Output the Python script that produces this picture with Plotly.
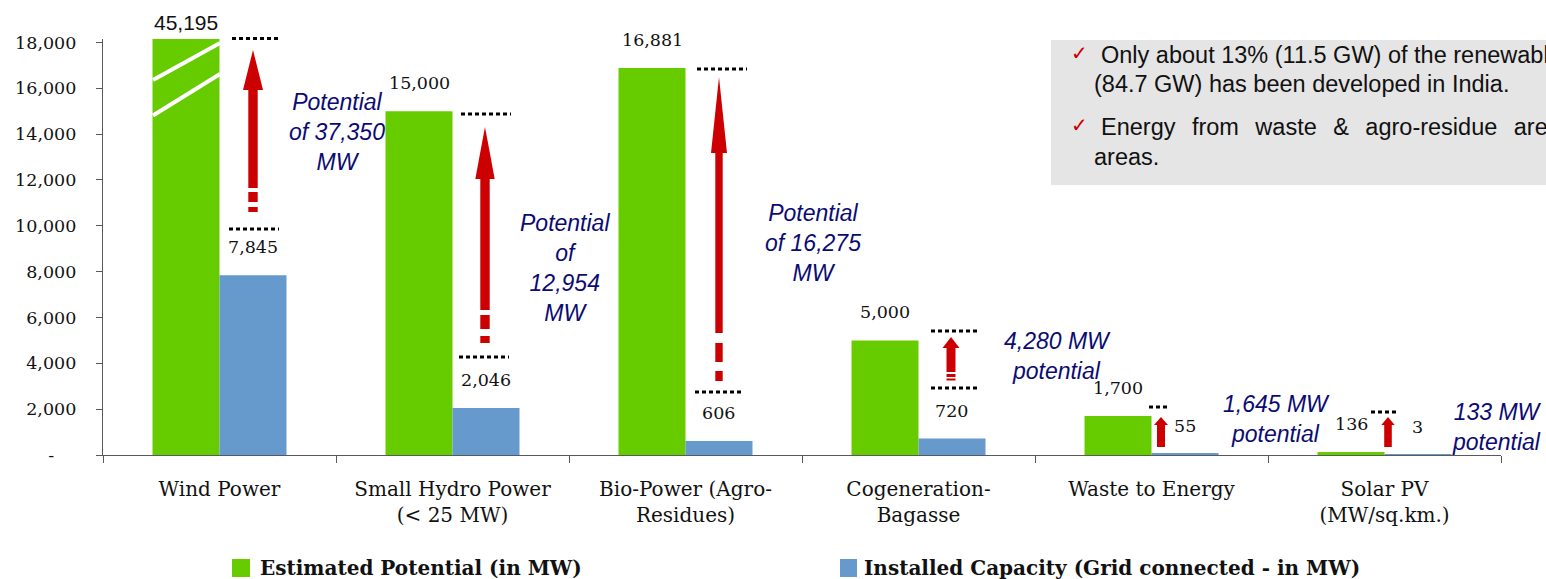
import plotly.graph_objects as go

# ---- data -------------------------------------------------------------
categories = [
    "Wind Power",
    "Small Hydro Power<br>(&lt; 25 MW)",
    "Bio-Power (Agro-<br>Residues)",
    "Cogeneration-<br>Bagasse",
    "Waste to Energy",
    "Solar PV<br>(MW/sq.km.)",
]
estimated_potential = [45195, 15000, 16881, 5000, 1700, 136]
installed_capacity = [7845, 2046, 606, 720, 55, 3]
gap_labels = [
    "Potential<br>of 37,350<br>MW",
    "Potential<br>of<br>12,954<br>MW",
    "Potential<br>of 16,275<br>MW",
    "4,280 MW<br>potential",
    "1,645 MW<br>potential",
    "133 MW<br>potential",
]
y_tick_values = [0, 2000, 4000, 6000, 8000, 10000, 12000, 14000, 16000, 18000]
y_tick_labels = ["-\u00a0\u00a0\u00a0\u00a0", "2,000", "4,000", "6,000", "8,000",
                 "10,000", "12,000", "14,000", "16,000", "18,000"]
series_names = ["Estimated Potential (in MW)",
                "Installed Capacity (Grid connected - in MW)"]
bullets = [
    ["Only about 13% (11.5 GW) of the renewable",
     "(84.7 GW) has been developed in India."],
    ["Energy\u2002\u2009from\u2002\u2009waste\u2002\u2009&amp;\u2002\u2009agro-residue\u2002\u2009are",
     "areas."],
]

# ---- layout / style ---------------------------------------------------
W, H = 1546, 579
ML, MR, MT, MB = 103, 45, 39, 124
PW, PH = W - ML - MR, H - MT - MB
Y_MAX = 18150
BARGAP = 0.425
HALF = (1 - BARGAP) / 4          # offset of each bar centre from the category centre

GREEN, BLUE, RED, NAVY = "#66CC00", "#6699CC", "#CC0000", "#0b0b73"
AXIS = "#595959"
SERIF, SANS = "DejaVu Serif", "Liberation Sans"


def px_x(p):
    return (p - ML) / PW


def px_y(p):
    return (H - MB - p) / PH


idx = list(range(len(categories)))

fig = go.Figure()
fig.add_trace(go.Bar(x=idx, y=estimated_potential, name=series_names[0],
                     marker=dict(color=GREEN, line=dict(width=0)), showlegend=False))
fig.add_trace(go.Bar(x=idx, y=installed_capacity, name=series_names[1],
                     marker=dict(color=BLUE, line=dict(width=0)), showlegend=False))

annotations = []
shapes = []

# value labels above the bars
for series, off in ((estimated_potential, -HALF), (installed_capacity, HALF)):
    for i, v in enumerate(series):
        clipped = v > Y_MAX
        annotations.append(dict(
            x=i + off, y=min(v, Y_MAX), xref="x", yref="y",
            text=f"{v:,}", showarrow=False, yanchor="middle",
            yshift=17 if clipped else 28,
            font=dict(family=SANS if clipped else SERIF,
                      size=21 if clipped else 17.5, color="#111111"),
        ))

# axis-break strokes across the truncated wind bar
for (x0, y0, x1, y1) in [(153, 80, 220, 43), (153, 115.5, 220, 74)]:
    shapes.append(dict(type="line", xref="paper", yref="paper",
                       x0=px_x(x0), y0=px_y(y0), x1=px_x(x1), y1=px_y(y1),
                       line=dict(color="white", width=4)))

# dotted level markers
dots = [(38.5, 232, 281), (229, 229, 279), (114, 461, 511), (357, 459, 509),
        (69, 697, 747), (392, 695, 744), (331, 931, 979), (388, 931, 979),
        (407, 1149, 1168), (412, 1371, 1399)]
for (yy, x0, x1) in dots:
    shapes.append(dict(type="line", xref="paper", yref="paper",
                       x0=px_x(x0), x1=px_x(x1), y0=px_y(yy), y1=px_y(yy),
                       line=dict(color="black", width=3, dash="4px,3px")))

# red gap arrows (head, shaft and the broken tail)
arrows = [
    dict(x=253, tip=50, base=90, end=188, head=10, shaft=4.7, tail=[(192, 202), (207, 212)]),
    dict(x=485, tip=127, base=179, end=310, head=9.7, shaft=4.7, tail=[(315, 329), (336, 343)]),
    dict(x=719, tip=77, base=153, end=333, head=8, shaft=3.7, tail=[(343, 362), (371, 381)]),
    dict(x=951, tip=337, base=348, end=372, head=8.5, shaft=4.5, tail=[(374, 377), (378.5, 380.5)]),
    dict(x=1161, tip=417, base=425, end=447, head=7, shaft=4, tail=[]),
    dict(x=1388, tip=417, base=425, end=447, head=6.7, shaft=3.8, tail=[]),
]
for a in arrows:
    cx = a["x"]
    path = (f"M{px_x(cx):.5f},{px_y(a['tip']):.5f} "
            f"L{px_x(cx + a['head']):.5f},{px_y(a['base']):.5f} "
            f"L{px_x(cx - a['head']):.5f},{px_y(a['base']):.5f} Z")
    shapes.append(dict(type="path", xref="paper", yref="paper", path=path,
                       fillcolor=RED, line=dict(width=0)))
    segs = [(a["base"] - 0.5, a["end"])] + a["tail"]
    for (t, b) in segs:
        shapes.append(dict(type="rect", xref="paper", yref="paper",
                           x0=px_x(cx - a["shaft"]), x1=px_x(cx + a["shaft"]),
                           y0=px_y(b), y1=px_y(t),
                           fillcolor=RED, line=dict(width=0)))

# gap captions
caption_pos = [(337, 131.5), (565, 268), (813, 243), (1057, 356), (1276, 418.5), (1497, 427)]
for text, (cx, cy) in zip(gap_labels, caption_pos):
    annotations.append(dict(x=px_x(cx), y=px_y(cy), xref="paper", yref="paper",
                            text=text, showarrow=False, align="center",
                            xanchor="center", yanchor="middle",
                            font=dict(family=SANS, size=23, color=NAVY, style="italic")))

# grey note box with check-marked bullets
shapes.append(dict(type="rect", xref="paper", yref="paper",
                   x0=px_x(1051), x1=px_x(1570), y0=px_y(185), y1=px_y(40),
                   fillcolor="#E5E5E5", line=dict(width=0), layer="below"))
bullet_rows = [(55, 84), (127, 157)]
for lines, (y1, y2) in zip(bullets, bullet_rows):
    annotations.append(dict(x=px_x(1069), y=px_y(y1 - 2), xref="paper", yref="paper",
                            text="\u2713", showarrow=False, xanchor="left", yanchor="middle",
                            font=dict(family="DejaVu Sans", size=20, color=RED)))
    annotations.append(dict(x=px_x(1099), y=px_y(y1), xref="paper", yref="paper",
                            text=lines[0], showarrow=False, xanchor="left", yanchor="middle",
                            font=dict(family=SANS, size=23.5, color="#111111")))
    annotations.append(dict(x=px_x(1092), y=px_y(y2), xref="paper", yref="paper",
                            text=lines[1], showarrow=False, xanchor="left", yanchor="middle",
                            font=dict(family=SANS, size=23.5, color="#111111")))

# legend swatches and labels
for name, color, sx0, sx1, tx in ((series_names[0], GREEN, 232, 250, 258),
                                  (series_names[1], BLUE, 840, 857, 862)):
    shapes.append(dict(type="rect", xref="paper", yref="paper",
                       x0=px_x(sx0), x1=px_x(sx1), y0=px_y(577), y1=px_y(559),
                       fillcolor=color, line=dict(width=0)))
    annotations.append(dict(x=px_x(tx), y=px_y(568), xref="paper", yref="paper",
                            text=f"<b>{name}</b>", showarrow=False,
                            xanchor="left", yanchor="middle",
                            font=dict(family=SERIF, size=20, color="#111111")))

fig.update_layout(
    width=W, height=H,
    margin=dict(l=ML, r=MR, t=MT, b=MB, pad=0),
    paper_bgcolor="white", plot_bgcolor="white",
    barmode="group", bargap=BARGAP, bargroupgap=0,
    showlegend=False,
    shapes=shapes, annotations=annotations,
    xaxis=dict(
        range=[-0.5, len(categories) - 0.5], tickmode="array",
        tickvals=idx, ticktext=categories, ticks="",
        showline=True, linecolor=AXIS, linewidth=1.3,
        showgrid=False, zeroline=False, fixedrange=True,
        tickfont=dict(family=SERIF, size=20, color="#111111"),
        ticklabelstandoff=16,
        minor=dict(tickmode="array",
                   tickvals=[i - 0.5 for i in range(len(categories) + 1)],
                   ticks="outside", ticklen=7, tickcolor=AXIS, tickwidth=1.3,
                   showgrid=False),
    ),
    yaxis=dict(
        range=[0, Y_MAX], tickmode="array",
        tickvals=y_tick_values, ticktext=y_tick_labels,
        ticks="outside", ticklen=6, tickcolor=AXIS, tickwidth=1.3,
        showline=True, linecolor=AXIS, linewidth=1.3,
        showgrid=False, zeroline=False, fixedrange=True,
        tickfont=dict(family=SERIF, size=17.5, color="#111111"),
        ticklabelstandoff=16,
    ),
)

fig.write_html("out.html", config={"displayModeBar": False})
